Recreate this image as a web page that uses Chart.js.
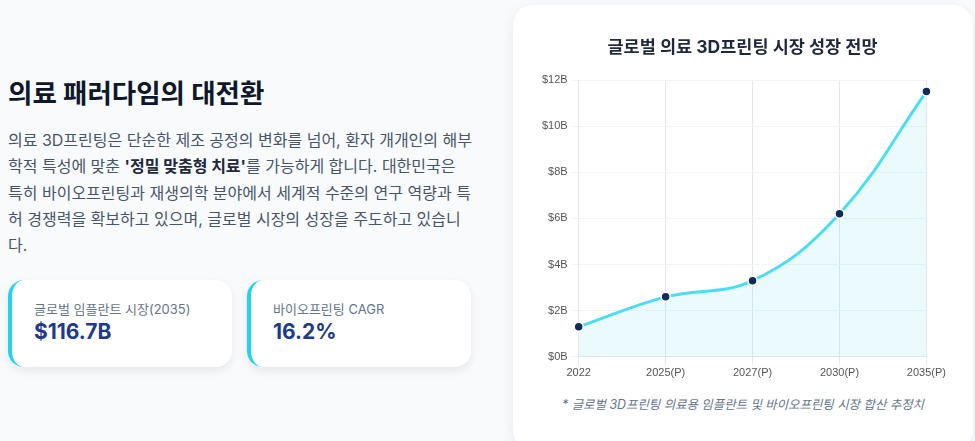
<!DOCTYPE html>
<html lang="ko">
<head>
<meta charset="utf-8">
<script src="https://cdn.jsdelivr.net/npm/chart.js@4.4.1/dist/chart.umd.min.js"></script>
<style>
  html,body{margin:0;padding:0;}
  body{width:975px;height:441px;overflow:hidden;background:#f8fafc;font-family:Inter,'Noto Sans CJK KR',sans-serif;position:relative;}
  h2{position:absolute;left:8px;top:72px;margin:0;font-size:26.5px;font-weight:700;color:#0f172a;}
  .desc{position:absolute;left:8px;top:127px;width:490px;margin:0;font-size:16px;line-height:26.3px;color:#475569;white-space:nowrap;}
  .desc b{color:#1e293b;}
  .stat{position:absolute;top:280px;width:224px;height:87px;background:#fff;border-radius:16px;border-left:4px solid #22d3ee;box-sizing:border-box;padding:20px 22px;box-shadow:0 4px 10px rgba(15,23,42,0.08);}
  .stat .lab{font-size:13px;color:#64748b;line-height:18px;}
  .stat .val{font-size:21px;font-weight:700;color:#1e3a8a;line-height:26px;margin-top:1px;}
  .card{position:absolute;left:513px;top:5px;width:460px;height:445px;background:#fff;border-radius:20px;box-shadow:0 4px 14px rgba(15,23,42,0.07);}
  .chartbox{position:absolute;left:22px;top:32px;width:413px;height:345px;}
  .note{position:absolute;left:0;width:460px;top:390px;text-align:center;font-size:12.4px;font-style:italic;color:#64748b;}
</style>
</head>
<body>
<h2>의료 패러다임의 대전환</h2>
<p class="desc">의료 3D프린팅은 단순한 제조 공정의 변화를 넘어, 환자 개개인의 해부<br>학적 특성에 맞춘 <b>'정밀 맞춤형 치료'</b>를 가능하게 합니다. 대한민국은<br>특히 바이오프린팅과 재생의학 분야에서 세계적 수준의 연구 역량과 특<br>허 경쟁력을 확보하고 있으며, 글로벌 시장의 성장을 주도하고 있습니<br>다.</p>
<div class="stat" style="left:8px;"><div class="lab">글로벌 임플란트 시장(2035)</div><div class="val">$116.7B</div></div>
<div class="stat" style="left:247px;"><div class="lab">바이오프린팅 CAGR</div><div class="val">16.2%</div></div>
<div class="card">
  <div class="chartbox"><canvas id="c"></canvas></div>
  <div class="note">* 글로벌 3D프린팅 의료용 임플란트 및 바이오프린팅 시장 합산 추정치</div>
</div>
<script>
const years = ['2022','2025(P)','2027(P)','2030(P)','2035(P)'];
const marketSize = [1.3, 2.6, 3.3, 6.2, 11.5];
const yTicks = [0, 2, 4, 6, 8, 10, 12];
const chartTitle = '글로벌 의료 3D프린팅 시장 성장 전망';

new Chart(document.getElementById('c'), {
  type: 'line',
  data: {
    labels: years,
    datasets: [{
      data: marketSize,
      borderColor: '#4ddcf5',
      backgroundColor: 'rgba(34,211,238,0.09)',
      borderWidth: 3,
      fill: true,
      tension: 0.4,
      pointRadius: 4.5,
      pointBackgroundColor: '#0f2d5c',
      pointBorderColor: '#ffffff',
      pointBorderWidth: 1.5
    }]
  },
  options: {
    responsive: true,
    maintainAspectRatio: false,
    animation: false,
    layout: { padding: { left: 4, right: 2 } },
    plugins: {
      legend: { display: false },
      tooltip: { enabled: false },
      title: {
        display: true,
        text: chartTitle,
        color: '#1e293b',
        font: { size: 17.5, weight: 'bold', family: "Inter,'Noto Sans CJK KR',sans-serif" },
        padding: { top: 0, bottom: 22 }
      }
    },
    scales: {
      x: {
        grid: { color: '#e2e8f0' },
        border: { color: '#e2e8f0' },
        ticks: { color: '#555', font: { size: 11 }, padding: 2 }
      },
      y: {
        min: 0, max: 12,
        afterBuildTicks: (s) => { s.ticks = yTicks.map(v => ({ value: v })); },
        grid: { color: '#f1f5f9' },
        border: { color: '#e2e8f0' },
        ticks: { color: '#555', font: { size: 11 }, callback: (v) => '$' + v + 'B' }
      }
    }
  }
});
</script>
</body>
</html>
